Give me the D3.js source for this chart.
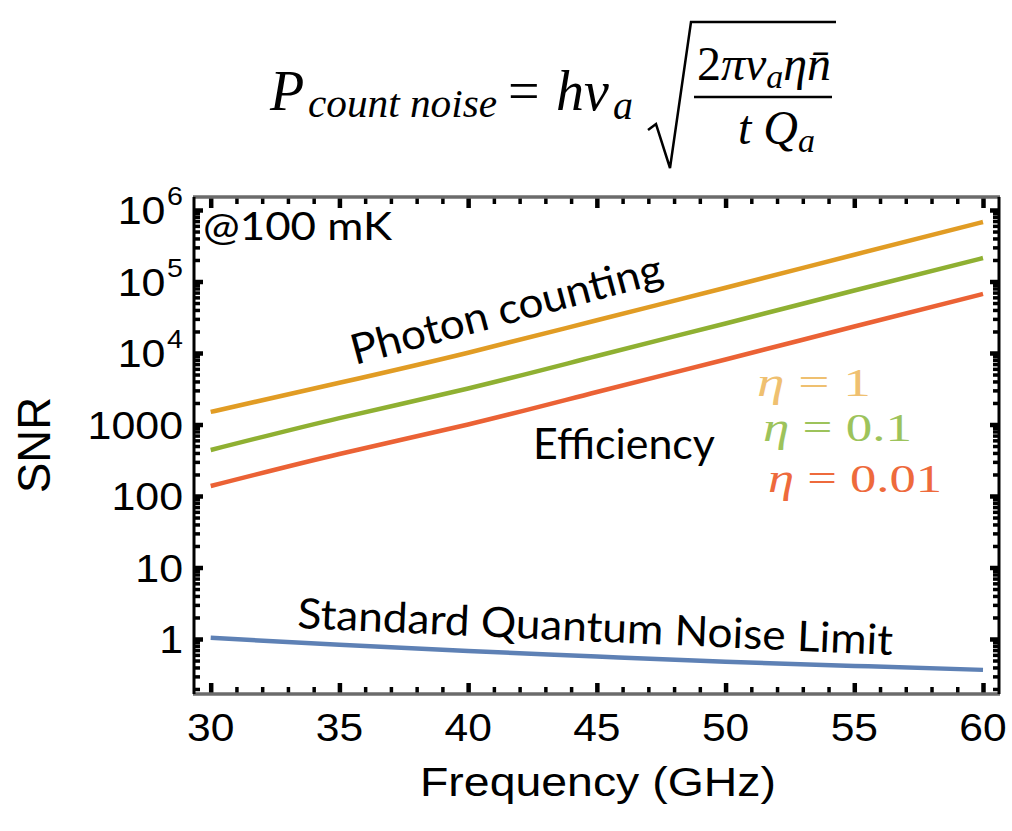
<!DOCTYPE html>
<html>
<head>
<meta charset="utf-8">
<script src="https://cdn.jsdelivr.net/npm/d3@7"></script>
<style>
  body { margin: 0; background: #fff; }
  svg { display: block; }
  .sans { font-family: "Liberation Sans", Arial, sans-serif; }
  .cal { font-family: Lato, "Open Sans", sans-serif; }
  .math { font-family: "Liberation Serif", "DejaVu Serif", serif; font-style: italic; }
</style>
</head>
<body>
<svg id="chart" width="1012" height="831"></svg>
<script>
// values
var freqGHz   = [30, 35, 40, 45, 50, 55, 60];
var snrEta1   = [1500, 3830, 10100, 28700, 81700, 237000, 680000];
var snrEta01  = [440, 1230, 3190, 9080, 25900, 74800, 213000];
var snrEta001 = [138, 387, 1000, 2850, 8110, 23500, 67000];
var snrSQL    = [1.04, 0.83, 0.68, 0.57, 0.48, 0.42, 0.37];

var xTicks = [30, 35, 40, 45, 50, 55, 60];
var yTicks = [1, 10, 100, 1000, 1e4, 1e5, 1e6];
var yTickLabels = ["1", "10", "100", "1000", ["10", "4"], ["10", "5"], ["10", "6"]];

var series = [
  {name: "eta1",   values: snrEta1,   color: "#E19C24"},
  {name: "eta01",  values: snrEta01,  color: "#8FB032"},
  {name: "eta001", values: snrEta001, color: "#EB6235"},
  {name: "sql",    values: snrSQL,    color: "#5E81B5"}
];

var svg = d3.select("#chart");

var frame = {left: 194, right: 999, top: 197, bottom: 694};

var x = d3.scaleLinear().domain([30, 60]).range([210.7, 983]);
var y = d3.scaleLog().domain([1, 1e6]).range([639, 210]);

// minor ticks
var xMinor = d3.range(30, 62, 1).filter(function(d) {
  return d % 5 != 0 && x(d) < frame.right - 2;
});
var yMinor = [];
for (var k = -1; k <= 6; k++) {
  for (var m = 2; m <= 9; m++) {
    var v = m * Math.pow(10, k);
    if (y(v) > frame.top + 2 && y(v) < frame.bottom - 2) yMinor.push(v);
  }
}

function tickAxis(axis, tx, ty, w) {
  var g = svg.append("g")
    .attr("transform", "translate(" + tx + "," + ty + ")")
    .call(axis);
  g.select(".domain").remove();
  g.selectAll("line").attr("stroke", "#000").attr("stroke-width", w);
  g.selectAll("text").remove();
  return g;
}

// bottom / top
tickAxis(d3.axisBottom(x).tickValues(xTicks).tickSize(-11), 0, frame.bottom, 4.5);
tickAxis(d3.axisBottom(x).tickValues(xMinor).tickSize(-7), 0, frame.bottom, 3.5);
tickAxis(d3.axisTop(x).tickValues(xTicks).tickSize(-11), 0, frame.top, 4.5);
tickAxis(d3.axisTop(x).tickValues(xMinor).tickSize(-7), 0, frame.top, 3.5);
// left / right
tickAxis(d3.axisLeft(y).tickValues(yTicks).tickSize(-9), frame.left, 0, 4.5);
tickAxis(d3.axisLeft(y).tickValues(yMinor).tickSize(-6), frame.left, 0, 3.5);
tickAxis(d3.axisRight(y).tickValues(yTicks).tickSize(-9), frame.right, 0, 4.5);
tickAxis(d3.axisRight(y).tickValues(yMinor).tickSize(-6), frame.right, 0, 3.5);

// frame
svg.append("line").attr("x1", frame.left - 1).attr("x2", frame.right + 1)
  .attr("y1", frame.top).attr("y2", frame.top).attr("stroke", "#6b6b6b").attr("stroke-width", 3.5);
svg.append("line").attr("x1", frame.left - 1).attr("x2", frame.right + 1)
  .attr("y1", frame.bottom).attr("y2", frame.bottom).attr("stroke", "#6b6b6b").attr("stroke-width", 3.5);
svg.append("line").attr("x1", frame.left).attr("x2", frame.left)
  .attr("y1", frame.top).attr("y2", frame.bottom).attr("stroke", "#000").attr("stroke-width", 3);
svg.append("line").attr("x1", frame.right).attr("x2", frame.right)
  .attr("y1", frame.top).attr("y2", frame.bottom).attr("stroke", "#000").attr("stroke-width", 3);

// curves
var line = d3.line()
  .x(function(d, i) { return x(freqGHz[i]); })
  .y(function(d) { return y(d); })
  .curve(d3.curveNatural);

svg.selectAll(".curve").data(series).enter().append("path")
  .attr("class", "curve")
  .attr("d", function(s) { return line(s.values); })
  .attr("fill", "none")
  .attr("stroke", function(s) { return s.color; })
  .attr("stroke-width", 4.5);

// tick labels
xTicks.forEach(function(t) {
  svg.append("text").attr("class", "sans")
    .attr("transform", "translate(" + x(t) + ",741) scale(1.12,1)")
    .attr("text-anchor", "middle")
    .attr("font-size", 38)
    .text(t);
});

yTicks.forEach(function(t, i) {
  var lab = yTickLabels[i];
  var g = svg.append("g")
    .attr("transform", "translate(183," + (y(t) + 14) + ") scale(1.1,1)");
  if (typeof lab === "string") {
    g.append("text").attr("class", "sans").attr("text-anchor", "end")
      .attr("font-size", 39).text(lab);
  } else {
    g.append("text").attr("class", "sans").attr("text-anchor", "end")
      .attr("x", -16).attr("font-size", 39).text(lab[0]);
    g.append("text").attr("class", "sans").attr("text-anchor", "end")
      .attr("y", -19).attr("font-size", 26).text(lab[1]);
  }
});

// axis titles
svg.append("text").attr("class", "sans")
  .attr("x", 598).attr("y", 796)
  .attr("text-anchor", "middle")
  .attr("font-size", 40)
  .attr("textLength", 356).attr("lengthAdjust", "spacingAndGlyphs")
  .text("Frequency (GHz)");

svg.append("text").attr("class", "sans")
  .attr("transform", "translate(50,445) rotate(-90)")
  .attr("text-anchor", "middle")
  .attr("font-size", 46)
  .attr("textLength", 96).attr("lengthAdjust", "spacingAndGlyphs")
  .text("SNR");

// annotations
svg.append("text").attr("class", "cal")
  .attr("x", 203).attr("y", 240).attr("font-size", 39)
  .attr("textLength", 189).attr("lengthAdjust", "spacingAndGlyphs")
  .text("@100 mK");

svg.append("text").attr("class", "cal")
  .attr("transform", "translate(355,365) rotate(-15)")
  .attr("font-size", 42)
  .attr("textLength", 321).attr("lengthAdjust", "spacingAndGlyphs")
  .text("Photon counting");

svg.append("text").attr("class", "cal")
  .attr("x", 533).attr("y", 459).attr("font-size", 42)
  .attr("textLength", 182).attr("lengthAdjust", "spacingAndGlyphs")
  .text("Efficiency");

svg.append("text").attr("class", "cal")
  .attr("transform", "translate(297,628) rotate(2.6)")
  .attr("font-size", 42)
  .attr("textLength", 596).attr("lengthAdjust", "spacingAndGlyphs")
  .text("Standard Quantum Noise Limit");

// eta labels
var etaLabels = [
  {t: "1",    x: 757, y: 396, w: 114, c: "#EFC070"},
  {t: "0.1",  x: 763, y: 441, w: 149, c: "#9DC35B"},
  {t: "0.01", x: 768, y: 492, w: 174, c: "#EE6A3C"}
];
etaLabels.forEach(function(e) {
  var t = svg.append("text")
    .attr("x", e.x).attr("y", e.y)
    .attr("font-size", 40).attr("fill", e.c)
    .attr("font-family", "'Liberation Serif', serif")
    .attr("textLength", e.w).attr("lengthAdjust", "spacingAndGlyphs");
  t.append("tspan").attr("font-style", "italic").text("\u03B7");
  t.append("tspan").text(" = " + e.t);
});

// formula at the top
var f = svg.append("g").attr("font-family", "'Liberation Serif', serif");
f.append("text").attr("class", "math").attr("x", 270).attr("y", 110)
  .attr("font-size", 56).text("P");
f.append("text").attr("class", "math").attr("x", 308).attr("y", 117)
  .attr("font-size", 40)
  .attr("textLength", 189).attr("lengthAdjust", "spacingAndGlyphs")
  .text("count noise");
f.append("text").attr("x", 508).attr("y", 110).attr("font-size", 56).text("=");
f.append("text").attr("class", "math").attr("x", 556).attr("y", 110)
  .attr("font-size", 56).text("h\u03BD");
f.append("text").attr("class", "math").attr("x", 613).attr("y", 119)
  .attr("font-size", 40).text("a");
// radical
f.append("path")
  .attr("d", "M648,130 L656,124 L670,168 L691,22 L836,22")
  .attr("fill", "none").attr("stroke", "#000").attr("stroke-width", 2.5)
  .attr("stroke-linejoin", "miter");
// fraction bar
f.append("line").attr("x1", 694).attr("x2", 832).attr("y1", 97).attr("y2", 97)
  .attr("stroke", "#000").attr("stroke-width", 2.5);
// numerator
var num = f.append("text").attr("x", 697).attr("y", 80).attr("font-size", 48)
  .attr("textLength", 134).attr("lengthAdjust", "spacingAndGlyphs");
num.append("tspan").text("2");
num.append("tspan").attr("font-style", "italic").text("\u03C0\u03BD");
num.append("tspan").attr("font-style", "italic").attr("font-size", 34).attr("dy", 8).text("a");
num.append("tspan").attr("font-style", "italic").attr("dy", -8).text("\u03B7n\u0304");
// denominator
var den = f.append("text").attr("x", 738).attr("y", 144).attr("font-size", 48);
den.append("tspan").attr("font-style", "italic").text("t Q");
den.append("tspan").attr("font-style", "italic").attr("font-size", 34).attr("dy", 8).text("a");
</script>
</body>
</html>
